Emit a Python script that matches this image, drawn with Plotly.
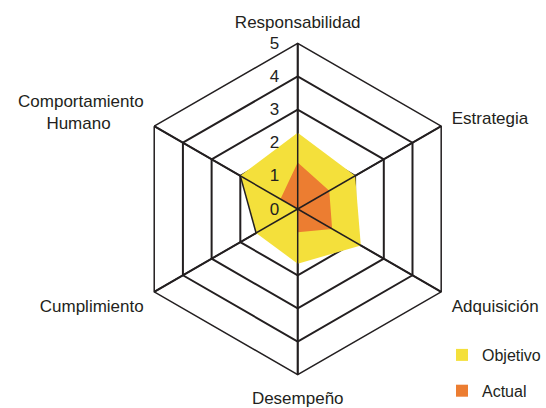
import plotly.graph_objects as go

categorias = ["Responsabilidad", "Estrategia", "Adquisición", "Desempeño",
              "Cumplimiento", "Comportamiento<br>Humano&nbsp;&nbsp;&nbsp;&nbsp;&nbsp;&nbsp;&nbsp;"]
objetivo = [2.3, 2.0, 2.2, 1.65, 1.45, 2.0]
actual = [1.4, 1.1, 1.2, 0.7, 0.0, 0.6]
rango = [0, 5]

AMARILLO = "#F4E03B"
NARANJA = "#EC7D31"
NEGRO = "#231F20"

fig = go.Figure()

fig.add_trace(go.Scatterpolar(
    r=objetivo, theta=categorias, name="Objetivo",
    mode="lines", fill="toself", fillcolor=AMARILLO,
    line=dict(width=0, color=AMARILLO), showlegend=False,
))
fig.add_trace(go.Scatterpolar(
    r=actual, theta=categorias, name="Actual",
    mode="lines", fill="toself", fillcolor=NARANJA,
    line=dict(width=0, color=NARANJA), showlegend=False,
))

# borde oscuro del objetivo entre Comportamiento Humano y Cumplimiento
fig.add_trace(go.Scatterpolar(
    r=[objetivo[5], objetivo[4]], theta=[categorias[5], categorias[4]],
    mode="lines", line=dict(color=NEGRO, width=1.5),
    showlegend=False, hoverinfo="skip",
))

# radios dibujados encima del relleno
for cat in categorias:
    fig.add_trace(go.Scatterpolar(
        r=rango, theta=[cat, cat], mode="lines",
        line=dict(color=NEGRO, width=1.5),
        showlegend=False, hoverinfo="skip",
    ))

# entradas de leyenda con cuadrados
for nombre, color, grupo in [("Objetivo", AMARILLO, "a"), ("Actual", NARANJA, "b")]:
    fig.add_trace(go.Scatterpolar(
        r=[None], theta=[None], name=nombre, mode="markers",
        marker=dict(symbol="square", size=12, color=color),
        legendgroup=grupo,
    ))

fig.update_layout(
    width=546, height=408,
    margin=dict(l=0, r=0, t=0, b=0),
    paper_bgcolor="white",
    font=dict(family="Liberation Sans, Arial, sans-serif", size=17, color=NEGRO),
    polar=dict(
        domain=dict(x=[0.2418, 0.8487], y=[0.0816, 0.8939]),
        bgcolor="white",
        gridshape="linear",
        radialaxis=dict(
            range=rango, dtick=1, angle=90, side="counterclockwise",
            showline=False, ticks="outside", ticklen=12,
            tickcolor="rgba(0,0,0,0)", gridcolor=NEGRO, gridwidth=1.5,
            tickangle=90, tickfont=dict(size=17),
        ),
        angularaxis=dict(
            rotation=90, direction="clockwise",
            showline=True, linecolor=NEGRO, linewidth=1.5,
            gridcolor=NEGRO, gridwidth=1.5,
            ticks="outside", ticklen=8, tickcolor="rgba(0,0,0,0)",
            tickfont=dict(size=17),
        ),
    ),
    legend=dict(
        x=1, y=0, xanchor="right", yanchor="bottom",
        font=dict(size=16), tracegroupgap=12,
        itemwidth=30,
    ),
)

fig.write_html("out.html", config={"displayModeBar": False},
               post_script="document.body.style.margin='0';")
